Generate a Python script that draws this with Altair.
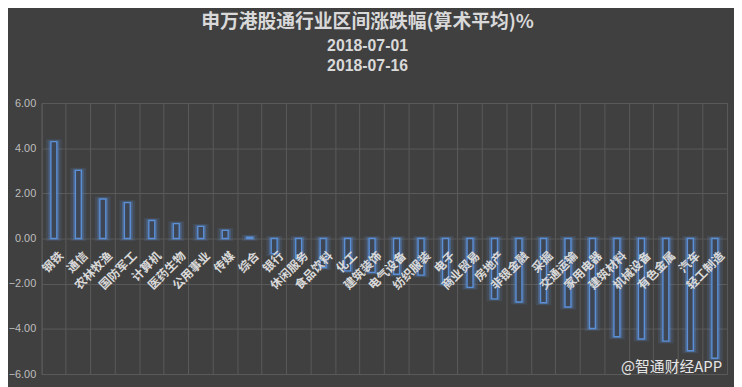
import altair as alt
import pandas as pd

categories = ["钢铁", "通信", "农林牧渔", "国防军工", "计算机", "医药生物", "公用事业", "传媒", "综合",
              "银行", "休闲服务", "食品饮料", "化工", "建筑装饰", "电气设备", "纺织服装", "电子",
              "商业贸易", "房地产", "非银金融", "采掘", "交通运输", "家用电器", "建筑材料",
              "机械设备", "有色金属", "汽车", "轻工制造"]
values = [4.29, 3.02, 1.75, 1.59, 0.80, 0.66, 0.54, 0.36, 0.06,
          -0.67, -0.89, -1.28, -1.43, -1.50, -1.58, -1.62, -2.01,
          -2.16, -2.67, -2.81, -2.84, -3.03, -3.98, -4.35,
          -4.45, -4.54, -4.97, -5.30]
y_ticks = [-6, -4, -2, 0, 2, 4, 6]

df = pd.DataFrame({"行业": categories, "涨跌幅": values})

BG = "#404040"
GRID = "#5a5a5a"
BLUE = "#5b8fd6"

x_enc = alt.X("行业:N", sort=None, title=None,
              scale=alt.Scale(paddingInner=0, paddingOuter=0),
              axis=alt.Axis(labels=False, ticks=False, domain=False, grid=True,
                            bandPosition=0, gridColor=GRID, gridWidth=1))
y_enc = alt.Y("涨跌幅:Q", title=None,
              scale=alt.Scale(domain=[-6, 6], nice=False, zero=False),
              axis=alt.Axis(values=y_ticks, format=".2f", ticks=False, domain=False,
                            grid=True, gridColor=GRID, gridWidth=1,
                            labelColor="#bfbfbf", labelFontSize=11,
                            labelFont="Liberation Sans", labelPadding=6))

base = alt.Chart(df)

glow2 = base.mark_bar(size=11, fill=BLUE, fillOpacity=0.08, stroke=BLUE,
                      strokeWidth=5, strokeOpacity=0.14).encode(x=x_enc, y=y_enc, y2=alt.datum(0))
glow1 = base.mark_bar(size=8, fill=BLUE, fillOpacity=0.0, stroke=BLUE,
                      strokeWidth=3, strokeOpacity=0.3).encode(x=x_enc, y=y_enc, y2=alt.datum(0))
bars = base.mark_bar(size=6, fill="#3e4654", stroke=BLUE, strokeWidth=1.4).encode(
    x=x_enc, y=y_enc, y2=alt.datum(0))

labels = base.mark_text(angle=315, align="right", baseline="top", xOffset=4, yOffset=12,
                        font="Noto Sans CJK SC", fontSize=12, fontWeight="bold",
                        color="#d9d9d9").encode(
    x=alt.X("行业:N", sort=None), y=alt.datum(0), text="行业:N")

watermark = alt.Chart(pd.DataFrame({"t": ["@智通财经APP"]})).mark_text(
    align="right", baseline="middle", font="Noto Sans CJK SC", fontSize=15,
    color="#e6e6e6").encode(x=alt.value(688), y=alt.value(267), text="t:N")

chart = alt.layer(glow2, glow1, bars, labels, watermark).properties(
    width=693, height=274,
    background=BG,
    padding={"left": 34, "top": 94, "right": 7, "bottom": 11},
    autosize=alt.AutoSizeParams(type="none"),
    title=alt.Title(
        "申万港股通行业区间涨跌幅(算术平均)%",
        subtitle=["2018-07-01", "2018-07-16"],
        anchor="middle", dx=-17, offset=23,
        font="Noto Sans CJK SC", fontSize=19, fontWeight="bold", color="#d9d9d9",
        subtitleFont="Liberation Sans", subtitleFontSize=16, subtitleFontWeight="bold",
        subtitleColor="#d9d9d9", subtitleLineHeight=21, subtitlePadding=6,
    ),
).configure_view(stroke=GRID, strokeWidth=1).configure_axis(gridOpacity=1)

chart.save("out.html", embed_options={"renderer": "svg", "actions": False})
